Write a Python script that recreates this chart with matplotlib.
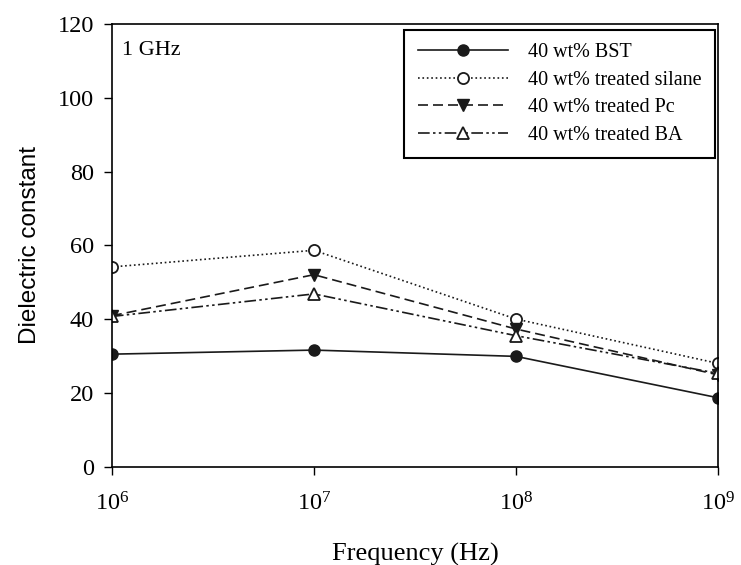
import matplotlib
matplotlib.use("Agg")
import matplotlib.pyplot as plt

plt.rcParams['font.family'] = ['Liberation Serif', 'DejaVu Serif']

# frequency (Hz)
freq = [1e6, 1e7, 1e8, 1e9]

# dielectric constant
bst = [30.6, 31.7, 30.0, 18.8]
silane = [54.2, 58.7, 40.1, 28.1]
pc = [41.0, 52.1, 37.4, 25.0]
ba = [40.8, 46.9, 35.6, 25.4]

labels = ['40 wt% BST', '40 wt% treated silane', '40 wt% treated Pc', '40 wt% treated BA']

fig = plt.figure(figsize=(7.41, 5.65), dpi=100)
ax = fig.add_axes([0.151, 0.173, 0.818, 0.785])

c = '#1a1a1a'
ax.plot(freq, bst, '-', color=c, lw=1.2, marker='o', ms=8, mfc=c, mec=c, label=labels[0])
ax.plot(freq, silane, ':', color=c, lw=1.2, marker='o', ms=8, mfc='white', mec=c, mew=1.3, label=labels[1])
ax.plot(freq, pc, '--', color=c, lw=1.2, dashes=(6, 3), marker='v', ms=8, mfc=c, mec=c, label=labels[2])
ax.plot(freq, ba, color=c, lw=1.2, dashes=(7, 2, 1.5, 2, 1.5, 2), marker='^', ms=8, mfc='white', mec=c, mew=1.3, label=labels[3])

ax.set_xscale('log')
ax.set_xlim(1e6, 1e9)
ax.set_ylim(0, 120)
ax.set_yticks([0, 20, 40, 60, 80, 100, 120])
ax.set_xticks(freq)
ax.minorticks_off()
ax.tick_params(direction='out', length=6, labelsize=17.5, width=1)
ax.tick_params(axis='x', pad=12)
ax.tick_params(axis='y', pad=7)

ax.set_xlabel('Frequency (Hz)', fontsize=19, labelpad=20)
ax.set_ylabel('Dielectric constant', fontsize=17.5, labelpad=12, family=['Liberation Sans', 'DejaVu Sans'])

ax.text(0.016, 0.96, '1 GHz', transform=ax.transAxes, fontsize=16, va='top', ha='left')

leg = ax.legend(loc='upper right', bbox_to_anchor=(0.995, 0.986), fontsize=14.5,
                handlelength=4.5, fancybox=False, edgecolor='black', framealpha=1,
                borderpad=0.65, labelspacing=0.42, handletextpad=1.0, borderaxespad=0)
leg.get_frame().set_linewidth(1.5)

for s in ax.spines.values():
    s.set_linewidth(1.2)

plt.savefig('out.png', dpi=100)
